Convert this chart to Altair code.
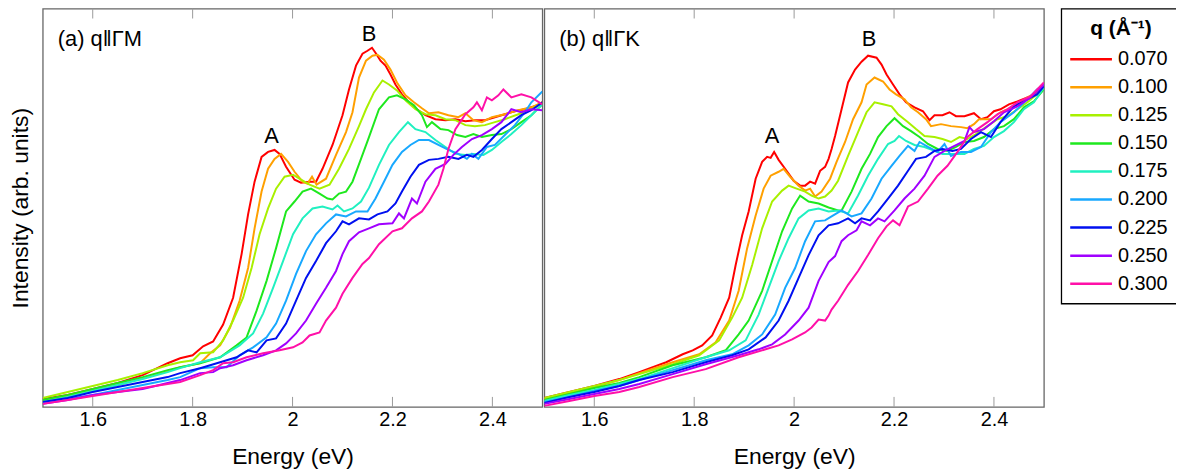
import altair as alt
import pandas as pd

FONT = "Liberation Sans"

E_TICKS = [1.6, 1.8, 2.0, 2.2, 2.4]
Q_LABELS = ["0.070", "0.100", "0.125", "0.150", "0.175", "0.200", "0.225", "0.250", "0.300"]
Q_COLORS = ["#ff0000", "#ffa000", "#a8f000", "#1ee81e", "#20f0c0", "#18a8ff", "#0010f0", "#a000ff", "#ff10a8"]
LEGEND_TITLE = "q (\u00c5\u207b\u00b9)"

PANEL_TITLES = ["(a) q\u2016\u0393M", "(b) q\u2016\u0393K"]
PEAK_LABELS = ["A", "B"]
GM_PEAK_E = [1.958, 2.153]
GM_PEAK_I = [273, 376]
GK_PEAK_E = [1.956, 2.150]
GK_PEAK_I = [273, 371]

# ---- panel (a) q || GM : (energy in eV, intensity in arb. units) ----
gm_070 = [(1.50, 8), (1.55, 12), (1.60, 18), (1.65, 24), (1.70, 32), (1.75, 44), (1.775, 49), (1.80, 52), (1.821, 61), (1.841, 66), (1.861, 83), (1.881, 110), (1.898, 154), (1.911, 194), (1.924, 227), (1.938, 252), (1.951, 257), (1.964, 259), (1.974, 255), (1.987, 242), (2.004, 229), (2.017, 226), (2.034, 227), (2.047, 227), (2.060, 240), (2.080, 264), (2.100, 294), (2.113, 320), (2.127, 344), (2.140, 356), (2.150, 359), (2.159, 362), (2.166, 357), (2.176, 349), (2.186, 344), (2.196, 335), (2.206, 325), (2.219, 315), (2.233, 307), (2.249, 300), (2.266, 294), (2.286, 290), (2.306, 289), (2.326, 290), (2.346, 288), (2.365, 289), (2.385, 289), (2.405, 292), (2.425, 295), (2.445, 298), (2.465, 300), (2.485, 303), (2.50, 307)]
gm_100 = [(1.50, 6), (1.55, 11), (1.60, 16), (1.65, 22), (1.70, 29), (1.75, 36), (1.775, 40), (1.815, 44), (1.835, 54), (1.855, 62), (1.875, 80), (1.894, 107), (1.911, 140), (1.924, 180), (1.938, 217), (1.951, 240), (1.964, 250), (1.977, 255), (1.991, 247), (2.004, 237), (2.020, 227), (2.030, 225), (2.039, 232), (2.048, 224), (2.067, 230), (2.087, 254), (2.107, 277), (2.120, 297), (2.133, 332), (2.147, 349), (2.160, 354), (2.170, 355), (2.183, 350), (2.196, 340), (2.209, 327), (2.226, 314), (2.243, 307), (2.259, 301), (2.273, 296), (2.292, 297), (2.312, 294), (2.332, 292), (2.346, 296), (2.362, 289), (2.379, 287), (2.399, 292), (2.425, 295), (2.452, 299), (2.478, 302), (2.50, 307)]
gm_125 = [(1.50, 9), (1.55, 15), (1.60, 21), (1.65, 27), (1.70, 34), (1.75, 42), (1.775, 45), (1.801, 47), (1.815, 54), (1.841, 55), (1.861, 67), (1.881, 87), (1.901, 110), (1.918, 140), (1.934, 174), (1.951, 200), (1.967, 220), (1.984, 232), (2.001, 234), (2.017, 229), (2.034, 224), (2.054, 220), (2.074, 224), (2.093, 240), (2.113, 260), (2.133, 283), (2.147, 300), (2.163, 317), (2.180, 329), (2.193, 325), (2.209, 319), (2.226, 309), (2.246, 300), (2.266, 295), (2.286, 294), (2.306, 290), (2.326, 289), (2.346, 284), (2.365, 283), (2.385, 284), (2.405, 287), (2.425, 290), (2.452, 295), (2.478, 300), (2.50, 307)]
gm_150 = [(1.50, 7), (1.55, 12), (1.60, 18), (1.65, 24), (1.70, 30), (1.75, 37), (1.775, 40), (1.815, 44), (1.855, 50), (1.888, 62), (1.908, 70), (1.928, 97), (1.948, 127), (1.967, 160), (1.987, 197), (2.004, 207), (2.020, 217), (2.037, 220), (2.054, 215), (2.070, 210), (2.080, 209), (2.093, 215), (2.107, 217), (2.120, 227), (2.137, 250), (2.153, 272), (2.173, 300), (2.193, 312), (2.209, 314), (2.226, 310), (2.243, 304), (2.259, 294), (2.269, 282), (2.279, 287), (2.296, 280), (2.312, 279), (2.329, 274), (2.346, 272), (2.362, 275), (2.379, 272), (2.399, 274), (2.418, 275), (2.438, 280), (2.458, 287), (2.478, 294), (2.50, 305)]
gm_175 = [(1.50, 5), (1.55, 10), (1.60, 16), (1.65, 22), (1.70, 28), (1.75, 35), (1.775, 39), (1.815, 45), (1.855, 50), (1.894, 62), (1.921, 74), (1.941, 94), (1.961, 120), (1.981, 147), (2.001, 174), (2.020, 190), (2.040, 200), (2.060, 202), (2.080, 199), (2.090, 203), (2.103, 197), (2.120, 200), (2.137, 207), (2.153, 221), (2.173, 244), (2.193, 264), (2.213, 277), (2.231, 287), (2.246, 280), (2.266, 277), (2.286, 269), (2.306, 262), (2.326, 255), (2.346, 254), (2.362, 255), (2.382, 254), (2.399, 259), (2.418, 267), (2.438, 275), (2.458, 284), (2.478, 294), (2.50, 305)]
gm_200 = [(1.50, 4), (1.55, 8), (1.60, 12), (1.65, 17), (1.70, 22), (1.75, 27), (1.775, 30), (1.815, 39), (1.841, 40), (1.868, 40), (1.894, 52), (1.921, 60), (1.948, 70), (1.967, 84), (1.987, 107), (2.007, 134), (2.027, 157), (2.047, 174), (2.067, 185), (2.087, 194), (2.107, 192), (2.127, 197), (2.150, 197), (2.166, 210), (2.183, 227), (2.200, 244), (2.219, 257), (2.236, 264), (2.253, 269), (2.273, 269), (2.292, 264), (2.312, 259), (2.332, 255), (2.349, 250), (2.359, 255), (2.372, 250), (2.389, 262), (2.405, 264), (2.425, 274), (2.445, 284), (2.465, 297), (2.478, 307), (2.50, 318)]
gm_225 = [(1.50, 5), (1.55, 9), (1.60, 15), (1.65, 20), (1.70, 25), (1.75, 30), (1.775, 34), (1.815, 39), (1.855, 45), (1.888, 50), (1.911, 57), (1.928, 55), (1.948, 67), (1.967, 69), (1.987, 84), (2.007, 107), (2.027, 130), (2.047, 147), (2.067, 165), (2.087, 177), (2.100, 187), (2.113, 184), (2.133, 190), (2.153, 189), (2.170, 194), (2.190, 197), (2.206, 205), (2.219, 217), (2.236, 232), (2.253, 244), (2.273, 249), (2.292, 250), (2.312, 252), (2.332, 250), (2.349, 254), (2.362, 252), (2.379, 259), (2.399, 270), (2.418, 280), (2.438, 287), (2.458, 294), (2.478, 299), (2.50, 307)]
gm_250 = [(1.50, 3), (1.55, 7), (1.60, 12), (1.65, 15), (1.70, 18), (1.75, 24), (1.775, 27), (1.815, 34), (1.841, 35), (1.855, 39), (1.881, 42), (1.908, 47), (1.941, 52), (1.967, 57), (1.987, 64), (2.007, 74), (2.027, 87), (2.047, 104), (2.067, 120), (2.087, 137), (2.100, 154), (2.113, 167), (2.133, 176), (2.153, 180), (2.173, 184), (2.200, 185), (2.213, 195), (2.223, 190), (2.239, 210), (2.249, 205), (2.266, 227), (2.286, 240), (2.306, 245), (2.322, 254), (2.339, 262), (2.359, 270), (2.379, 274), (2.399, 280), (2.418, 287), (2.438, 300), (2.458, 297), (2.478, 300), (2.50, 299)]
gm_300 = [(1.50, 3), (1.55, 7), (1.60, 11), (1.65, 15), (1.70, 19), (1.75, 23), (1.775, 25), (1.815, 32), (1.841, 37), (1.861, 44), (1.881, 45), (1.908, 50), (1.941, 54), (1.974, 57), (2.001, 60), (2.020, 65), (2.034, 72), (2.054, 75), (2.067, 87), (2.087, 100), (2.100, 114), (2.120, 130), (2.140, 144), (2.153, 150), (2.173, 164), (2.200, 177), (2.219, 180), (2.239, 190), (2.259, 197), (2.273, 207), (2.292, 224), (2.302, 240), (2.312, 260), (2.326, 280), (2.346, 295), (2.362, 302), (2.369, 307), (2.379, 299), (2.389, 312), (2.399, 309), (2.412, 314), (2.422, 320), (2.438, 312), (2.458, 315), (2.478, 312), (2.50, 305)]

# ---- panel (b) q || GK ----
gk_070 = [(1.50, 9), (1.55, 15), (1.60, 21), (1.65, 28), (1.69, 35), (1.717, 40), (1.744, 45), (1.777, 53), (1.797, 57), (1.816, 62), (1.836, 72), (1.853, 90), (1.870, 110), (1.883, 143), (1.896, 173), (1.909, 197), (1.923, 230), (1.936, 247), (1.946, 252), (1.953, 251), (1.960, 257), (1.969, 249), (1.982, 240), (1.999, 228), (2.012, 223), (2.022, 223), (2.032, 227), (2.042, 225), (2.052, 238), (2.062, 242), (2.069, 250), (2.075, 260), (2.082, 273), (2.095, 300), (2.108, 327), (2.122, 340), (2.135, 348), (2.148, 354), (2.165, 352), (2.175, 345), (2.185, 335), (2.198, 325), (2.211, 315), (2.224, 307), (2.241, 302), (2.258, 298), (2.271, 289), (2.281, 294), (2.297, 294), (2.311, 297), (2.324, 293), (2.341, 293), (2.360, 296), (2.374, 290), (2.387, 292), (2.400, 298), (2.413, 300), (2.430, 305), (2.447, 308), (2.467, 312), (2.483, 315), (2.50, 323)]
gk_100 = [(1.50, 8), (1.55, 14), (1.60, 20), (1.65, 27), (1.69, 34), (1.757, 45), (1.810, 53), (1.843, 65), (1.870, 87), (1.889, 117), (1.906, 160), (1.923, 193), (1.939, 220), (1.953, 233), (1.969, 237), (1.979, 240), (1.992, 232), (2.009, 223), (2.022, 218), (2.032, 220), (2.042, 212), (2.055, 217), (2.072, 230), (2.085, 247), (2.102, 267), (2.118, 290), (2.135, 307), (2.145, 325), (2.161, 332), (2.178, 328), (2.191, 320), (2.204, 315), (2.221, 310), (2.234, 302), (2.248, 297), (2.264, 290), (2.274, 283), (2.294, 285), (2.314, 283), (2.334, 282), (2.347, 281), (2.360, 285), (2.370, 290), (2.380, 290), (2.394, 290), (2.413, 297), (2.440, 303), (2.467, 312), (2.486, 317), (2.50, 323)]
gk_125 = [(1.50, 9), (1.55, 15), (1.60, 21), (1.65, 27), (1.69, 33), (1.757, 43), (1.810, 52), (1.850, 67), (1.876, 90), (1.896, 110), (1.916, 143), (1.936, 180), (1.956, 207), (1.976, 218), (1.989, 223), (2.005, 220), (2.022, 217), (2.035, 213), (2.049, 210), (2.062, 212), (2.075, 218), (2.088, 228), (2.108, 253), (2.128, 277), (2.145, 297), (2.161, 307), (2.178, 305), (2.195, 303), (2.208, 295), (2.228, 287), (2.244, 280), (2.261, 273), (2.281, 272), (2.297, 270), (2.314, 267), (2.331, 272), (2.347, 270), (2.364, 275), (2.387, 283), (2.407, 290), (2.427, 293), (2.447, 300), (2.467, 307), (2.486, 315), (2.50, 322)]
gk_150 = [(1.50, 7), (1.55, 13), (1.60, 19), (1.65, 24), (1.69, 30), (1.757, 42), (1.823, 50), (1.863, 57), (1.889, 73), (1.909, 87), (1.936, 117), (1.956, 147), (1.976, 177), (1.996, 200), (2.012, 213), (2.029, 207), (2.049, 205), (2.069, 201), (2.088, 198), (2.095, 198), (2.115, 217), (2.135, 240), (2.152, 255), (2.168, 272), (2.185, 283), (2.201, 291), (2.218, 283), (2.234, 278), (2.251, 272), (2.268, 265), (2.287, 260), (2.307, 258), (2.324, 262), (2.341, 267), (2.360, 268), (2.380, 272), (2.400, 280), (2.420, 283), (2.440, 290), (2.460, 302), (2.480, 308), (2.50, 320)]
gk_175 = [(1.50, 6), (1.55, 12), (1.60, 17), (1.65, 23), (1.69, 28), (1.757, 39), (1.823, 50), (1.870, 57), (1.903, 67), (1.929, 93), (1.949, 120), (1.969, 147), (1.989, 170), (2.009, 190), (2.029, 198), (2.049, 200), (2.069, 197), (2.088, 198), (2.108, 195), (2.128, 213), (2.148, 233), (2.168, 250), (2.188, 265), (2.201, 268), (2.210, 273), (2.224, 268), (2.241, 264), (2.261, 262), (2.281, 258), (2.297, 255), (2.321, 255), (2.341, 255), (2.360, 260), (2.380, 263), (2.400, 272), (2.420, 278), (2.440, 287), (2.460, 300), (2.480, 307), (2.50, 322)]
gk_200 = [(1.50, 5), (1.55, 10), (1.60, 16), (1.65, 21), (1.69, 27), (1.757, 37), (1.823, 47), (1.876, 53), (1.909, 62), (1.936, 73), (1.962, 93), (1.982, 120), (2.002, 140), (2.022, 167), (2.042, 187), (2.062, 188), (2.075, 192), (2.095, 198), (2.115, 192), (2.135, 195), (2.155, 210), (2.175, 230), (2.195, 243), (2.211, 253), (2.228, 263), (2.241, 258), (2.251, 267), (2.268, 262), (2.287, 257), (2.301, 265), (2.314, 253), (2.334, 257), (2.354, 257), (2.374, 262), (2.394, 277), (2.413, 287), (2.440, 297), (2.467, 310), (2.486, 320), (2.50, 325)]
gk_225 = [(1.50, 4), (1.55, 10), (1.60, 15), (1.65, 21), (1.69, 27), (1.757, 35), (1.823, 45), (1.876, 52), (1.909, 58), (1.943, 70), (1.969, 87), (1.989, 107), (2.009, 130), (2.029, 153), (2.049, 173), (2.069, 183), (2.088, 185), (2.108, 190), (2.122, 185), (2.135, 190), (2.152, 188), (2.168, 197), (2.188, 210), (2.208, 223), (2.228, 238), (2.244, 250), (2.264, 252), (2.281, 258), (2.297, 260), (2.317, 258), (2.334, 260), (2.354, 270), (2.374, 277), (2.394, 272), (2.413, 287), (2.440, 303), (2.467, 310), (2.486, 315), (2.50, 323)]
gk_250 = [(1.50, 3), (1.55, 8), (1.60, 13), (1.65, 18), (1.69, 23), (1.757, 33), (1.823, 43), (1.889, 52), (1.929, 58), (1.956, 63), (1.982, 73), (2.009, 87), (2.029, 100), (2.049, 127), (2.069, 146), (2.082, 152), (2.095, 167), (2.108, 173), (2.125, 178), (2.135, 187), (2.152, 183), (2.168, 190), (2.181, 187), (2.201, 198), (2.221, 210), (2.241, 220), (2.261, 233), (2.281, 252), (2.301, 258), (2.321, 263), (2.341, 268), (2.351, 282), (2.360, 277), (2.380, 280), (2.400, 288), (2.420, 297), (2.447, 303), (2.473, 312), (2.50, 325)]
gk_300 = [(1.50, 1), (1.55, 6), (1.60, 11), (1.65, 15), (1.69, 20), (1.757, 30), (1.823, 38), (1.889, 50), (1.943, 58), (1.969, 62), (1.996, 68), (2.022, 75), (2.035, 80), (2.049, 88), (2.062, 87), (2.069, 92), (2.075, 98), (2.088, 107), (2.108, 123), (2.128, 137), (2.148, 153), (2.168, 170), (2.185, 182), (2.198, 188), (2.211, 183), (2.228, 202), (2.248, 207), (2.268, 220), (2.287, 233), (2.307, 243), (2.327, 257), (2.347, 272), (2.367, 280), (2.387, 287), (2.407, 295), (2.427, 300), (2.447, 307), (2.473, 313), (2.50, 327)]

GM_SERIES = [gm_070, gm_100, gm_125, gm_150, gm_175, gm_200, gm_225, gm_250, gm_300]
GK_SERIES = [gk_070, gk_100, gk_125, gk_150, gk_175, gk_200, gk_225, gk_250, gk_300]

W, H = 503, 401
LEG_W, LEG_H = 122, 297
X_SCALE = alt.Scale(domain=[1.5, 2.5], nice=False)
Y_SCALE = alt.Scale(domain=[0, 401.5], nice=False)
C_SCALE = alt.Scale(domain=Q_LABELS, range=Q_COLORS)


def to_frame(series_list):
    rows = []
    for q, s in zip(Q_LABELS, series_list):
        for e, i in s:
            rows.append({"q": q, "E": e, "I": i})
    return pd.DataFrame(rows)


def panel(series_list, title, peak_e, peak_i, show_y):
    df = to_frame(series_list)
    x_axis = alt.Axis(values=E_TICKS, format="~g", title="Energy (eV)", ticks=False,
                      domain=False, grid=False, labelPadding=3, titlePadding=16)
    if show_y:
        y_axis = alt.Axis(title="Intensity (arb. units)", labels=False, ticks=False,
                          domain=False, grid=False, titlePadding=10)
    else:
        y_axis = None
    lines = alt.Chart(df).mark_line(strokeWidth=2, clip=True).encode(
        x=alt.X("E:Q", scale=X_SCALE, axis=x_axis),
        y=alt.Y("I:Q", scale=Y_SCALE, axis=y_axis),
        color=alt.Color("q:N", scale=C_SCALE, legend=None),
        order=alt.Order("E:Q"),
    )
    tick_df = pd.DataFrame({"E": E_TICKS})
    bottom_ticks = alt.Chart(tick_df).mark_rule(color="#9a9a9a", strokeWidth=1).encode(
        x=alt.X("E:Q", scale=X_SCALE), y=alt.value(H), y2=alt.value(H - 10))
    top_ticks = alt.Chart(tick_df).mark_rule(color="#9a9a9a", strokeWidth=1).encode(
        x=alt.X("E:Q", scale=X_SCALE), y=alt.value(0), y2=alt.value(10))
    peaks = alt.Chart(pd.DataFrame({"E": peak_e, "I": peak_i, "label": PEAK_LABELS})).mark_text(
        font=FONT, fontSize=22, color="black").encode(
        x=alt.X("E:Q", scale=X_SCALE), y=alt.Y("I:Q", scale=Y_SCALE), text="label:N")
    label = alt.Chart(pd.DataFrame({"E": [1.530], "I": [370.5], "label": [title]})).mark_text(
        font=FONT, fontSize=22, color="black", align="left", baseline="middle").encode(
        x=alt.X("E:Q", scale=X_SCALE), y=alt.Y("I:Q", scale=Y_SCALE), text="label:N")
    return alt.layer(lines, bottom_ticks, top_ticks, peaks, label).properties(width=W, height=H)


def legend_panel():
    df = pd.DataFrame({"q": Q_LABELS})
    ys = alt.Scale(type="point", domain=Q_LABELS, range=[51, 277], padding=0)
    swatch = alt.Chart(df).mark_rule(strokeWidth=2.5).encode(
        x=alt.value(9), x2=alt.value(51),
        y=alt.Y("q:N", scale=ys, axis=None),
        color=alt.Color("q:N", scale=C_SCALE, legend=None),
    )
    labels = alt.Chart(df).mark_text(font=FONT, fontSize=20, color="black",
                                     align="left", baseline="middle").encode(
        x=alt.value(57), y=alt.Y("q:N", scale=ys, axis=None), text="q:N")
    title = alt.Chart(pd.DataFrame({"t": [LEGEND_TITLE]})).mark_text(
        font=FONT, fontSize=21, fontWeight="bold", color="black",
        align="center", baseline="middle").encode(
        x=alt.value(60), y=alt.value(21), text="t:N")
    return alt.layer(swatch, labels, title).properties(
        width=LEG_W, height=LEG_H,
        view=alt.ViewBackground(stroke="black", strokeWidth=1.3))


pa = panel(GM_SERIES, PANEL_TITLES[0], GM_PEAK_E, GM_PEAK_I, True)
pb = panel(GK_SERIES, PANEL_TITLES[1], GK_PEAK_E, GK_PEAK_I, False)
plots = alt.hconcat(pa, pb, spacing=0)

chart = alt.hconcat(plots, legend_panel(), spacing=15.5).properties(
    padding={"left": 1, "top": -3, "right": -8, "bottom": 0}
).configure_view(
    stroke="#666666", strokeWidth=1.3
).configure_axis(
    labelFont=FONT, labelFontSize=20, labelColor="black",
    titleFont=FONT, titleFontSize=23, titleFontWeight="normal", titleColor="black",
)

chart.save("out.html", embed_options={"renderer": "svg", "actions": False})
